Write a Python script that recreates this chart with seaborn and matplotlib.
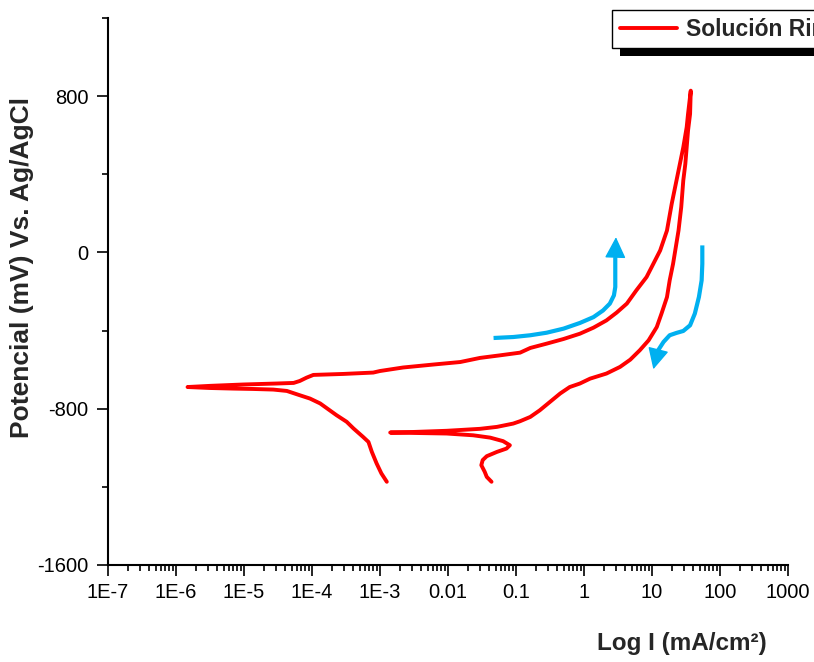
import numpy as np
import pandas as pd
import matplotlib
matplotlib.use("Agg")
import matplotlib.pyplot as plt
import seaborn as sns
from matplotlib.ticker import LogLocator, NullFormatter
from matplotlib.patches import Rectangle

# barrido directo: rama catodica -> Ecorr -> rama anodica (log10 I en mA/cm2, E en mV)
log_i_directo = [-2.90, -2.98, -3.05, -3.12, -3.17, -3.25, -3.39, -3.49, -3.64, -3.74, -3.88,
                 -4.03, -4.18, -4.37, -4.57, -4.86, -5.16, -5.50, -5.83,
                 -5.50, -5.01, -4.52, -4.27, -4.18, -4.08, -3.98, -3.54, -3.10, -3.00, -2.66,
                 -2.22, -1.82, -1.53, -1.24, -0.94, -0.79, -0.55, -0.30, -0.06, 0.14, 0.33,
                 0.48, 0.63, 0.77, 0.92, 1.02, 1.12, 1.22, 1.29, 1.36, 1.41, 1.46, 1.51,
                 1.53, 1.57]
e_directo = [-1174, -1131, -1080, -1021, -970, -944, -901, -867, -833, -808, -773,
             -748, -731, -709, -702, -699, -697, -694, -689,
             -683, -676, -671, -668, -658, -641, -627, -622, -615, -607, -589,
             -574, -561, -540, -527, -513, -489, -467, -443, -416, -385, -348,
             -308, -262, -194, -126, -58, 10, 112, 249, 368, 453, 538, 641,
             709, 828]

# barrido inverso: desde el maximo hasta el final catodico
log_i_inverso = [1.57, 1.56, 1.53, 1.51, 1.49, 1.46, 1.43, 1.39, 1.35, 1.31, 1.26, 1.22,
                 1.14, 1.07, 0.95, 0.82, 0.68, 0.53, 0.33, 0.09, -0.06, -0.21, -0.35,
                 -0.50, -0.65, -0.79, -0.94, -1.04, -1.28, -1.53, -2.02, -2.51, -2.85,
                 -2.02, -1.63, -1.38, -1.19, -1.09, -1.14, -1.28, -1.43, -1.49, -1.51,
                 -1.46, -1.43, -1.36]
e_inverso = [828, 709, 624, 538, 453, 368, 232, 112, 27, -58, -143, -229,
             -313, -382, -450, -501, -549, -586, -620, -646, -671, -689, -722,
             -765, -808, -842, -864, -876, -893, -903, -913, -919, -922,
             -927, -936, -948, -966, -987, -1004, -1021, -1043, -1063, -1089,
             -1123, -1149, -1174]

# flechas indicando el sentido del barrido
flecha_sube_i = [-1.33, -1.04, -0.79, -0.55, -0.30, -0.06, 0.14, 0.28, 0.38, 0.44, 0.46,
                 0.46, 0.46, 0.47]
flecha_sube_e = [-438, -433, -424, -411, -390, -361, -331, -297, -262, -220, -177,
                 -109, -24, 78]
flecha_baja_i = [1.74, 1.74, 1.73, 1.69, 1.63, 1.56, 1.46, 1.36, 1.26, 1.17, 1.09, 1.02]
flecha_baja_e = [36, -58, -143, -228, -313, -373, -402, -412, -424, -458, -501, -598]

xticks = [1e-7, 1e-6, 1e-5, 1e-4, 1e-3, 1e-2, 1e-1, 1, 10, 100, 1000]
xtick_labels = ['1E-7', '1E-6', '1E-5', '1E-4', '1E-3', '0.01', '0.1', '1', '10', '100', '1000']
yticks = [-1600, -800, 0, 800]
yticks_minor = [-1200, -400, 400, 1200]

rojo = '#FF0000'
azul = '#00B0F0'

df = pd.DataFrame({
    'I': 10 ** np.array(log_i_directo + log_i_inverso),
    'E': e_directo + e_inverso,
})

sns.set_style('ticks')
plt.rcParams['font.family'] = ['Liberation Sans', 'DejaVu Sans']
plt.rcParams['axes.unicode_minus'] = False

fig = plt.figure(figsize=(8.14, 6.62), dpi=100)
ax = fig.add_axes([108 / 814, 97 / 662, 680 / 814, 547 / 662])

sns.lineplot(data=df, x='I', y='E', sort=False, estimator=None, color=rojo,
             linewidth=2.8, label='Solución Ringer', ax=ax)

for li, ee in [(flecha_sube_i, flecha_sube_e), (flecha_baja_i, flecha_baja_e)]:
    xs = 10 ** np.array(li)
    ax.plot(xs[:-1], ee[:-1], color=azul, lw=3, solid_capstyle='butt')
    ax.annotate('', xy=(xs[-1], ee[-1]), xytext=(xs[-2], ee[-2]),
                arrowprops=dict(arrowstyle='-|>,head_length=1.2,head_width=0.6',
                                color=azul, lw=1, mutation_scale=11,
                                shrinkA=0, shrinkB=0))

ax.set_xscale('log')
ax.set_xlim(1e-7, 1e3)
ax.set_ylim(-1600, 1200)
ax.set_xticks(xticks, labels=xtick_labels)
ax.xaxis.set_minor_locator(LogLocator(base=10, subs=np.arange(2, 10), numticks=100))
ax.xaxis.set_minor_formatter(NullFormatter())
ax.set_yticks(yticks)
ax.set_yticks(yticks_minor, minor=True)

ax.tick_params(axis='both', which='major', direction='out', length=8, width=1.2,
               labelsize=14.5, pad=5, color='black', labelcolor='black')
ax.tick_params(axis='both', which='minor', direction='out', length=4.5, width=1.2,
               color='black')
ax.tick_params(axis='y', which='major', pad=6)

sns.despine(ax=ax)
for s in ['left', 'bottom']:
    ax.spines[s].set_linewidth(1.5)
    ax.spines[s].set_color('black')

ax.set_xlabel('Log I (mA/cm²)', fontsize=17.5, fontweight='bold', va='center')
ax.xaxis.set_label_coords(0.844, -0.143)
ax.set_ylabel('Potencial (mV) Vs. Ag/AgCl', fontsize=19, fontweight='bold', va='center')
ax.yaxis.set_label_coords(-0.1265, 0.543)

leg = ax.legend(loc='upper left', bbox_to_anchor=(612 / 814, 1 - 10 / 662),
                bbox_transform=fig.transFigure, borderaxespad=0, frameon=True,
                fancybox=False, framealpha=1, edgecolor='black',
                prop={'size': 16.5, 'weight': 'bold'}, borderpad=0.33,
                handlelength=2.5, handletextpad=0.38)
leg.get_frame().set_linewidth(1.0)
leg.set_zorder(6)

# sombra negra del recuadro de la leyenda
ax.add_patch(Rectangle((620 / 814, 1 - 56 / 662), 0.3, 40 / 662, transform=fig.transFigure,
                       facecolor='black', edgecolor='none', clip_on=False, zorder=5))

fig.savefig('out.png', dpi=100)
